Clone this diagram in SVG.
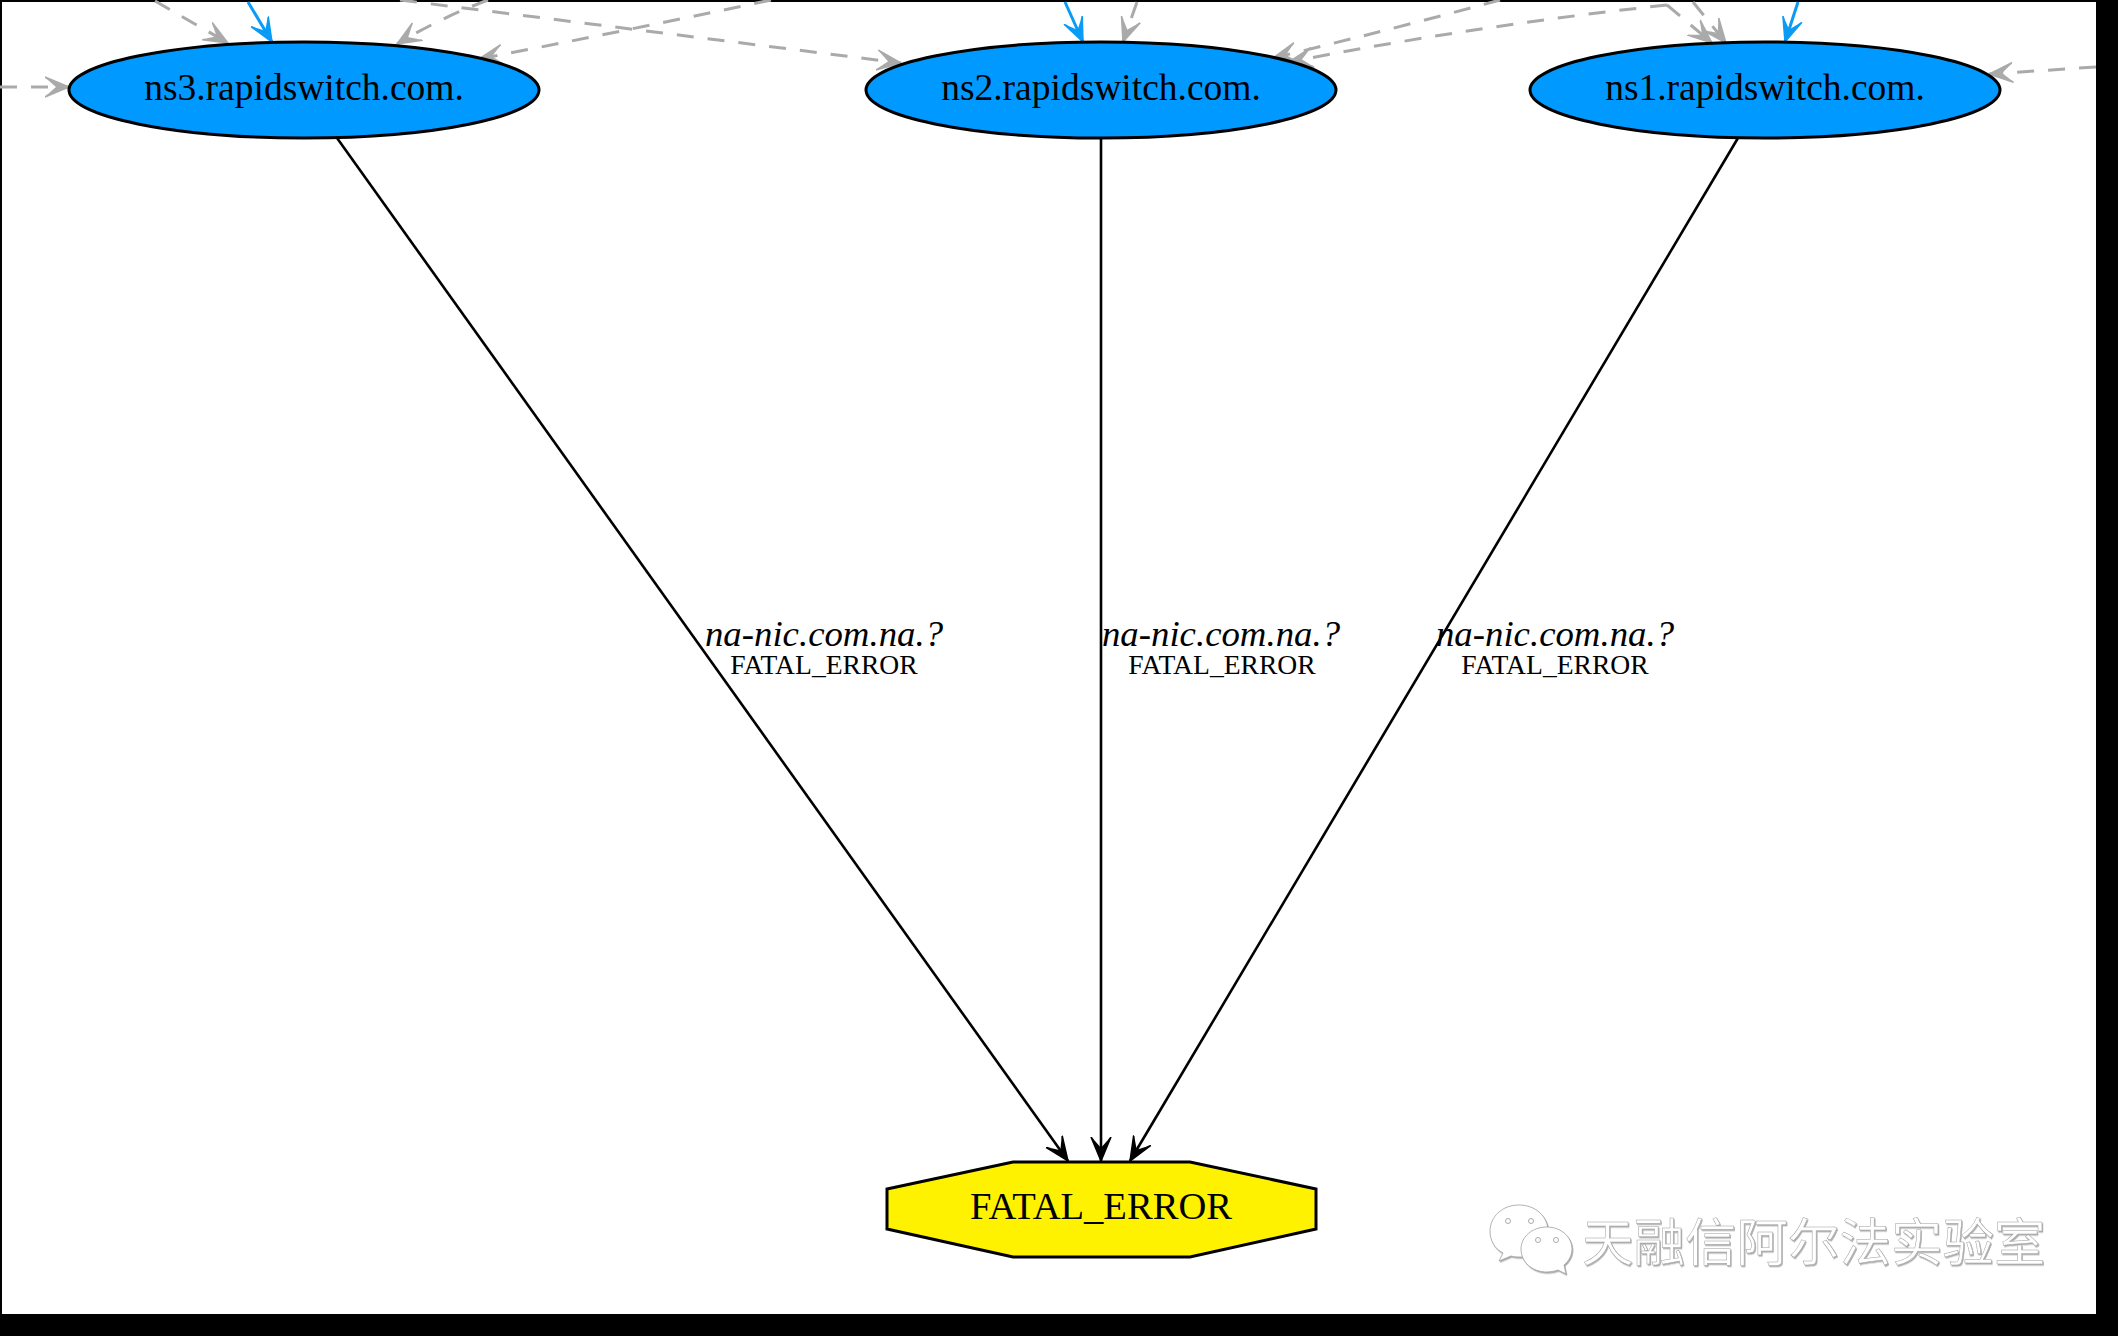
<svg xmlns="http://www.w3.org/2000/svg" width="2118" height="1336" viewBox="0 0 2118 1336">
<style>
.n{stroke:#000;stroke-width:3}
.t{font-family:"Liberation Serif","Times New Roman",serif;text-anchor:middle;fill:#000}
.big{font-size:37.5px}
.big2{font-size:38.6px}
.it{font-size:36.8px;font-style:italic}
.sm{font-size:27.6px}
.c{fill:none;stroke-width:2.6}
.k{stroke:#000;marker-end:url(#ak)}
.g{stroke:#aaa;stroke-width:3;stroke-dasharray:17 14;marker-end:url(#ag)}
.b{stroke:#0a9bf5;stroke-width:3;marker-end:url(#ab)}
.wm{fill:#fff;stroke:#a0a0a0;stroke-width:.8}
</style>
<defs>
<marker id="ak" markerUnits="userSpaceOnUse" markerWidth="28" markerHeight="28" refX="24" refY="12" orient="auto" viewBox="0 0 28 24"><path d="M0,2 L24,12 L0,22 L4,19 L12,12 L4,5 Z" fill="#000" stroke="#000" stroke-width="1.5"/></marker>
<marker id="ag" markerUnits="userSpaceOnUse" markerWidth="28" markerHeight="28" refX="24" refY="12" orient="auto" viewBox="0 0 28 24"><path d="M0,2 L24,12 L0,22 L4,19 L12,12 L4,5 Z" fill="#aaa" stroke="#aaa" stroke-width="1.5"/></marker>
<marker id="ab" markerUnits="userSpaceOnUse" markerWidth="28" markerHeight="28" refX="24" refY="12" orient="auto" viewBox="0 0 28 24"><path d="M0,2 L24,12 L0,22 L4,19 L12,12 L4,5 Z" fill="#0a9bf5" stroke="#0a9bf5" stroke-width="1.5"/></marker>
<filter id="sh" x="-5%" y="-5%" width="110%" height="115%"><feDropShadow dx="1" dy="1.4" stdDeviation=".5" flood-color="#777" flood-opacity=".6"/></filter>
</defs>
<rect width="2118" height="1336" fill="#000"/>
<rect x="2" y="2" width="2094" height="1312" fill="#fff"/>
<g id="connectors">
<path class="c g" d="M155,1 L228,43"/>
<path class="c g" d="M488,0 Q440,18 397,44"/>
<path class="c g" d="M771,0 Q620,32 479,59"/>
<path class="c g" d="M400,0 L901,63"/>
<path class="c g" d="M0,87 L69,87"/>
<path class="c g" d="M1137,2 L1123,42"/>
<path class="c g" d="M1500,0 Q1390,30 1273,58"/>
<path class="c g" d="M1667,5 Q1480,25 1289,62"/>
<path class="c g" d="M1667,5 L1712,43"/>
<path class="c g" d="M1693,2 L1726,43"/>
<path class="c g" d="M2096,67 L1989,74"/>
<path class="c b" d="M248,2 L272,42"/>
<path class="c b" d="M1065,2 L1083,42"/>
<path class="c b" d="M1798,2 L1785,42"/>
<path class="c k" d="M337,138 L1068,1161"/>
<path class="c k" d="M1101,138 L1101,1161"/>
<path class="c k" d="M1738,138 L1130,1161"/>
<text class="t it" x="824" y="646">na-nic.com.na.?</text>
<text class="t sm" x="824" y="674">FATAL_ERROR</text>
<text class="t it" x="1221" y="646">na-nic.com.na.?</text>
<text class="t sm" x="1222" y="674">FATAL_ERROR</text>
<text class="t it" x="1555" y="646">na-nic.com.na.?</text>
<text class="t sm" x="1555" y="674">FATAL_ERROR</text>
</g>
<g id="ns3"><ellipse class="n" cx="304" cy="90" rx="235" ry="48" fill="#0099ff"/><text class="t big" x="304" y="100">ns3.rapidswitch.com.</text></g>
<g id="ns2"><ellipse class="n" cx="1101" cy="90" rx="235" ry="48" fill="#0099ff"/><text class="t big" x="1101" y="100">ns2.rapidswitch.com.</text></g>
<g id="ns1"><ellipse class="n" cx="1765" cy="90" rx="235" ry="48" fill="#0099ff"/><text class="t big" x="1765" y="100">ns1.rapidswitch.com.</text></g>
<g id="fatal"><polygon class="n" points="1013,1162 1190,1162 1316,1189 1316,1229 1190,1257 1013,1257 887,1229 887,1189" fill="#fff200"/><text class="t big2" x="1101" y="1219">FATAL_ERROR</text></g>
<g id="watermark" filter="url(#sh)">
<path class="wm" d="M1519,1205 C1502,1205 1490,1217 1490,1231 C1490,1241 1495,1249 1503,1253 L1499,1261 L1511,1256 C1514,1257 1518,1257 1522,1257 C1540,1257 1548,1244 1548,1231 C1548,1217 1536,1205 1519,1205 Z"/>
<circle cx="1508" cy="1221" r="2.5" fill="#fff" stroke="#aaa"/><circle cx="1531" cy="1221" r="2.5" fill="#fff" stroke="#aaa"/>
<path class="wm" d="M1547,1227 C1532,1227 1521,1237 1521,1249 C1521,1262 1532,1272 1547,1272 C1551,1272 1555,1271 1558,1270 L1566,1274 L1564,1265 C1569,1261 1572,1255 1572,1249 C1572,1237 1561,1227 1547,1227 Z"/>
<circle cx="1538" cy="1240" r="2.5" fill="#fff" stroke="#aaa"/><circle cx="1556" cy="1240" r="2.5" fill="#fff" stroke="#aaa"/>
<text class="wm" x="1582" y="1261" font-size="51.5" style="font-family:'Noto Sans CJK SC',sans-serif;stroke-width:.5">天融信阿尔法实验室</text>
</g>
</svg>
